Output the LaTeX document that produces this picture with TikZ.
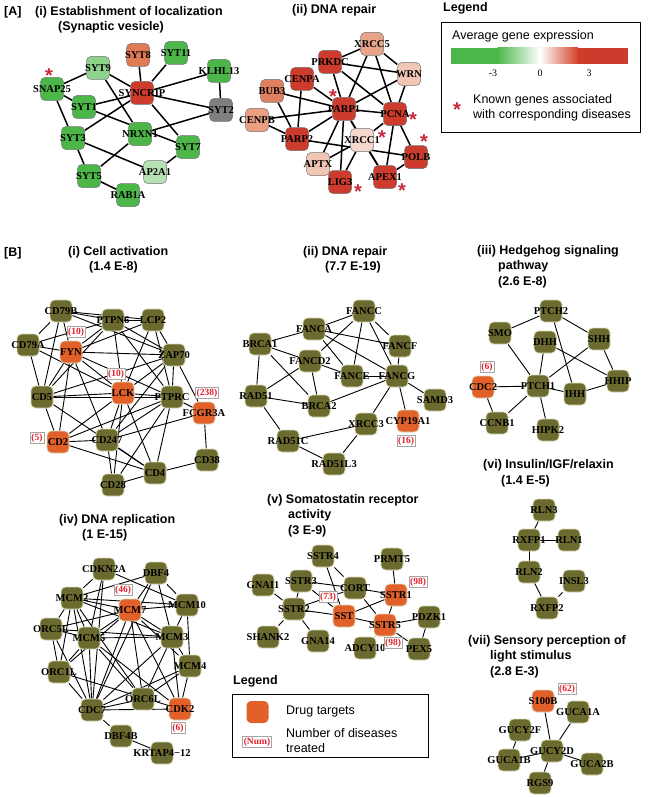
\documentclass[tikz,border=0pt]{standalone}
\usepackage{fontspec}
\setmainfont{Liberation Serif}
\newfontfamily\headfont{Liberation Sans}
\usetikzlibrary{backgrounds}
\definecolor{agreen}{HTML}{4CB748}
\definecolor{alightgreen}{HTML}{8ED28C}
\definecolor{apalegreen}{HTML}{B6E2B4}
\definecolor{agray}{HTML}{7F7F7F}
\definecolor{ared}{HTML}{CC3B2B}
\definecolor{asalmon}{HTML}{E07A55}
\definecolor{asalmonB}{HTML}{E08060}
\definecolor{apink}{HTML}{E8A48A}
\definecolor{apinkB}{HTML}{EA9E82}
\definecolor{apale}{HTML}{F2C6B5}
\definecolor{apaleB}{HTML}{F6D7CB}
\definecolor{geneolive}{HTML}{6B6A2F}
\definecolor{drugorange}{HTML}{E2602A}
\definecolor{rimcolor}{HTML}{DAD9BA}
\definecolor{numred}{HTML}{E0202A}
\definecolor{astred}{HTML}{C8283C}
\newcommand\astmark{\raisebox{-11.6pt}{\smash{*}}}
\tikzset{
  gA/.style={rectangle, rounded corners=4.5pt, minimum size=23pt, inner sep=0pt, draw=black!55, line width=0.5pt},
  gB/.style={rectangle, rounded corners=4.5pt, minimum size=22pt, inner sep=0pt, draw=rimcolor, line width=0.8pt, fill=geneolive},
  gBt/.style={gB, fill=drugorange},
  lbl/.style={font=\bfseries\fontsize{10.5}{11}\selectfont, inner sep=0pt},
  edgeA/.style={line width=1.5pt},
  edgeB/.style={line width=0.9pt},
  num/.style={draw=black!35, fill=white, text=numred, font=\bfseries\fontsize{9.5}{10}\selectfont, inner sep=1.2pt},
  ttl/.style={font=\headfont\bfseries\fontsize{12.5}{15}\selectfont, anchor=west, inner sep=0pt},
  legtxt/.style={font=\headfont\fontsize{12.5}{15}\selectfont, anchor=west, inner sep=0pt},
  ast/.style={text=astred, font=\headfont\bfseries\fontsize{20}{20}\selectfont, inner sep=0pt,
    text height=3.5pt, text depth=3.5pt}
}
\begin{document}
\begin{tikzpicture}[x=1pt,y=-1pt]
\useasboundingbox (0,0) rectangle (650,797);

% ---------- [A] titles
\node[ttl] (tA) at (4,12) {[A]};
\node[ttl] (tA1a) at (35,12) {(i) Establishment of localization};
\node[ttl] (tA1b) at (58,27) {(Synaptic vesicle)};
\node[ttl] (tA2a) at (292,10) {(ii) DNA repair};

% ---------- [A] (i) synaptic vesicle
\node[gA, fill=asalmon, label={[lbl]center:SYT8}] (syt8) at (138,55) {};
\node[gA, fill=agreen, label={[lbl]center:SYT11}] (syt11) at (176,53) {};
\node[gA, fill=alightgreen, label={[lbl]center:SYT9}] (syt9) at (98,68) {};
\node[gA, fill=agreen, label={[lbl]center:KLHL13}] (klhl13) at (219,71) {};
\node[gA, fill=agreen, label={[lbl]center:SNAP25}] (snap25) at (52,89) {};
\node[gA, fill=ared, label={[lbl]center:SYNCRIP}] (syncrip) at (142,93) {};
\node[gA, fill=agray, label={[lbl]center:SYT2}] (syt2) at (221,110) {};
\node[gA, fill=agreen, label={[lbl]center:SYT1}] (syt1) at (84,107) {};
\node[gA, fill=agreen, label={[lbl]center:SYT3}] (syt3) at (73,138) {};
\node[gA, fill=agreen, label={[lbl]center:NRXN1}] (nrxn1) at (140,134) {};
\node[gA, fill=agreen, label={[lbl]center:SYT7}] (syt7) at (188,147) {};
\node[gA, fill=apalegreen, label={[lbl]center:AP2A1}] (ap2a1) at (155,172) {};
\node[gA, fill=agreen, label={[lbl]center:SYT5}] (syt5) at (89,176) {};
\node[gA, fill=agreen, label={[lbl]center:RAB1A}] (rab1a) at (128,195) {};
\node[ast] (astA1) at (49,71) {\astmark};

% ---------- [A] (ii) DNA repair
\node[gA, fill=apink, label={[lbl]center:XRCC5}] (xrcc5) at (372,44) {};
\node[gA, fill=ared, label={[lbl]center:PRKDC}] (prkdc) at (330,62) {};
\node[gA, fill=ared, label={[lbl]center:CENPA}] (cenpa) at (302,79) {};
\node[gA, fill=apale, label={[lbl]center:WRN}] (wrn) at (409,74) {};
\node[gA, fill=asalmonB, label={[lbl]center:BUB3}] (bub3) at (272,91) {};
\node[gA, fill=ared, label={[lbl]center:PARP1}] (parp1) at (344,109) {};
\node[gA, fill=ared, label={[lbl]center:PCNA}] (pcna) at (395,114) {};
\node[gA, fill=apinkB, label={[lbl]center:CENPB}] (cenpb) at (257,120) {};
\node[gA, fill=ared, label={[lbl]center:PARP2}] (parp2) at (297,139) {};
\node[gA, fill=apaleB, label={[lbl]center:XRCC1}] (xrcc1) at (362,140) {};
\node[gA, fill=ared, label={[lbl]center:POLB}] (polb) at (416,157) {};
\node[gA, fill=apale, label={[lbl]center:APTX}] (aptx) at (318,164) {};
\node[gA, fill=ared, label={[lbl]center:LIG3}] (lig3) at (340,182) {};
\node[gA, fill=ared, label={[lbl]center:APEX1}] (apex1) at (385,177) {};
\node[ast] (astA2) at (333,92) {\astmark};
\node[ast] (astA3) at (413,115) {\astmark};
\node[ast] (astA4) at (382,133) {\astmark};
\node[ast] (astA5) at (424,137) {\astmark};
\node[ast] (astA6) at (358,187) {\astmark};
\node[ast] (astA7) at (402,186) {\astmark};

% ---------- [A] legend
\node[ttl] (legA) at (443,8) {Legend};
\draw[line width=1pt] (441,23) rectangle (640,132);
\node[legtxt] (legAexpr) at (452,36) {Average gene expression};
\fill[agreen] (451,48) rectangle (498,64);
\shade[left color=agreen, right color=white] (497.5,48) rectangle (540,64);
\shade[left color=white, right color=ared!90!orange] (540,48) rectangle (578,64);
\fill[ared] (577.5,48) rectangle (628,64);
\node[font=\fontsize{10}{11}\selectfont, inner sep=0pt] (legAm3) at (493,73) {-3};
\node[font=\fontsize{10}{11}\selectfont, inner sep=0pt] (legA0) at (540,73) {0};
\node[font=\fontsize{10}{11}\selectfont, inner sep=0pt] (legAp3) at (589,73) {3};
\node[ast] (legAast) at (457,105) {\astmark};
\node[legtxt] (legAk1) at (473,100) {Known genes associated};
\node[legtxt] (legAk2) at (473,115) {with corresponding diseases};

% ---------- [B] titles
\node[ttl] (tB) at (4,253) {[B]};
\node[ttl] (tB1a) at (68,252) {(i) Cell activation};
\node[ttl] (tB1b) at (89,267) {(1.4 E-8)};
\node[ttl] (tB2a) at (303,252) {(ii) DNA repair};
\node[ttl] (tB2b) at (325,267) {(7.7 E-19)};
\node[ttl] (tB3a) at (477,251) {(iii) Hedgehog signaling};
\node[ttl] (tB3b) at (498,266) {pathway};
\node[ttl] (tB3c) at (498,282) {(2.6 E-8)};
\node[ttl] (tB4a) at (59,520) {(iv) DNA replication};
\node[ttl] (tB4b) at (82,535) {(1 E-15)};
\node[ttl] (tB5a) at (267,500) {(v) Somatostatin receptor};
\node[ttl] (tB5b) at (288,515) {activity};
\node[ttl] (tB5c) at (288,531) {(3 E-9)};
\node[ttl] (tB6a) at (483,465) {(vi) Insulin/IGF/relaxin};
\node[ttl] (tB6b) at (501,481) {(1.4 E-5)};
\node[ttl] (tB7a) at (468,641) {(vii) Sensory perception of};
\node[ttl] (tB7b) at (490,656) {light stimulus};
\node[ttl] (tB7c) at (490,672) {(2.8 E-3)};

% ---------- [B] (i) cell activation
\node[gB, label={[lbl]center:CD79B}] (cd79b) at (61,311) {};
\node[gB, label={[lbl]center:PTPN6}] (ptpn6) at (113,320) {};
\node[gB, label={[lbl]center:LCP2}] (lcp2) at (153,320) {};
\node[gB, label={[lbl]center:CD79A}] (cd79a) at (28,345) {};
\node[gBt, label={[lbl]center:FYN}] (fyn) at (71,352) {};
\node[gB, label={[lbl]center:ZAP70}] (zap70) at (174,355) {};
\node[gB, label={[lbl]center:CD5}] (cd5) at (42,397) {};
\node[gBt, label={[lbl]center:LCK}] (lck) at (123,393) {};
\node[gB, label={[lbl]center:PTPRC}] (ptprc) at (172,397) {};
\node[gBt, label={[lbl]center:FCGR3A}] (fcgr3a) at (204,413) {};
\node[gBt, label={[lbl]center:CD2}] (cd2) at (58,442) {};
\node[gB, label={[lbl]center:CD247}] (cd247) at (107,440) {};
\node[gB, label={[lbl]center:CD38}] (cd38) at (207,460) {};
\node[gB, label={[lbl]center:CD4}] (cd4) at (155,473) {};
\node[gB, label={[lbl]center:CD28}] (cd28) at (113,485) {};
\node[num] (nfyn) at (76,332) {(10)};
\node[num] (nlck) at (116,374) {(10)};
\node[num] (nfcgr) at (207,393) {(238)};
\node[num] (ncd2) at (37,438) {(5)};

% ---------- [B] (ii) DNA repair
\node[gB, label={[lbl]center:FANCC}] (fancc) at (364,311) {};
\node[gB, label={[lbl]center:FANCA}] (fanca) at (314,329) {};
\node[gB, label={[lbl]center:BRCA1}] (brca1) at (260,344) {};
\node[gB, label={[lbl]center:FANCF}] (fancf) at (400,346) {};
\node[gB, label={[lbl]center:FANCD2}] (fancd2) at (310,361) {};
\node[gB, label={[lbl]center:FANCE}] (fance) at (352,376) {};
\node[gB, label={[lbl]center:FANCG}] (fancg) at (397,376) {};
\node[gB, label={[lbl]center:RAD51}] (rad51) at (256,396) {};
\node[gB, label={[lbl]center:BRCA2}] (brca2) at (319,406) {};
\node[gB, label={[lbl]center:SAMD3}] (samd3) at (435,400) {};
\node[gBt, label={[lbl]center:CYP19A1}] (cyp19a1) at (408,421) {};
\node[gB, label={[lbl]center:XRCC3}] (xrcc3) at (366,424) {};
\node[gB, label={[lbl]center:RAD51C}] (rad51c) at (288,441) {};
\node[gB, label={[lbl]center:RAD51L3}] (rad51l3) at (334,464) {};
\node[num] (ncyp) at (406,441) {(16)};

% ---------- [B] (iii) hedgehog
\node[gB, label={[lbl]center:PTCH2}] (ptch2) at (551,311) {};
\node[gB, label={[lbl]center:SMO}] (smo) at (500,333) {};
\node[gB, label={[lbl]center:DHH}] (dhh) at (545,342) {};
\node[gB, label={[lbl]center:SHH}] (shh) at (599,339) {};
\node[gB, label={[lbl]center:HHIP}] (hhip) at (618,381) {};
\node[gBt, label={[lbl]center:CDC2}] (cdc2) at (483,387) {};
\node[gB, label={[lbl]center:PTCH1}] (ptch1) at (538,386) {};
\node[gB, label={[lbl]center:IHH}] (ihh) at (575,394) {};
\node[gB, label={[lbl]center:CCNB1}] (ccnb1) at (497,423) {};
\node[gB, label={[lbl]center:HIPK2}] (hipk2) at (548,430) {};
\node[num] (ncdc2) at (487,367) {(6)};

% ---------- [B] (iv) DNA replication
\node[gB, label={[lbl]center:CDKN2A}] (cdkn2a) at (104,569) {};
\node[gB, label={[lbl]center:DBF4}] (dbf4) at (156,573) {};
\node[gB, label={[lbl]center:MCM2}] (mcm2) at (72,598) {};
\node[gBt, label={[lbl]center:MCM7}] (mcm7) at (130,610) {};
\node[gB, label={[lbl]center:MCM10}] (mcm10) at (187,605) {};
\node[gB, label={[lbl]center:ORC5L}] (orc5l) at (51,629) {};
\node[gB, label={[lbl]center:MCM5}] (mcm5) at (89,638) {};
\node[gB, label={[lbl]center:MCM3}] (mcm3) at (172,637) {};
\node[gB, label={[lbl]center:ORC1L}] (orc1l) at (59,672) {};
\node[gB, label={[lbl]center:MCM4}] (mcm4) at (190,666) {};
\node[gB, label={[lbl]center:ORC6L}] (orc6l) at (143,699) {};
\node[gBt, label={[lbl]center:CDK2}] (cdk2) at (180,709) {};
\node[gB, label={[lbl]center:CDC7}] (cdc7) at (92,710) {};
\node[gB, label={[lbl]center:DBF4B}] (dbf4b) at (121,736) {};
\node[gB, label={[lbl]center:KRTAP4\textminus12}] (krtap) at (162,753) {};
\node[num] (nmcm7) at (123,590) {(46)};
\node[num] (ncdk2) at (178,728) {(6)};

% ---------- [B] (v) somatostatin
\node[gB, label={[lbl]center:SSTR4}] (sstr4) at (323,556) {};
\node[gB, label={[lbl]center:PRMT5}] (prmt5) at (392,559) {};
\node[gB, label={[lbl]center:GNAI1}] (gnai1) at (263,585) {};
\node[gB, label={[lbl]center:SSTR3}] (sstr3) at (301,581) {};
\node[gB, label={[lbl]center:CORT}] (cort) at (355,588) {};
\node[gBt, label={[lbl]center:SSTR1}] (sstr1) at (396,595) {};
\node[gB, label={[lbl]center:SSTR2}] (sstr2) at (294,609) {};
\node[gBt, label={[lbl]center:SST}] (sst) at (344,616) {};
\node[gBt, label={[lbl]center:SSTR5}] (sstr5) at (385,625) {};
\node[gB, label={[lbl]center:PDZK1}] (pdzk1) at (429,617) {};
\node[gB, label={[lbl]center:SHANK2}] (shank2) at (268,637) {};
\node[gB, label={[lbl]center:GNA14}] (gna14) at (318,641) {};
\node[gB, label={[lbl]center:ADCY10}] (adcy10) at (365,648) {};
\node[gB, label={[lbl]center:PEX5}] (pex5) at (419,649) {};
\node[num] (nsstr1) at (418,582) {(98)};
\node[num] (nsst) at (328,597) {(73)};
\node[num] (nsstr5) at (393,643) {(98)};

% ---------- [B] (vi) insulin/IGF/relaxin
\node[gB, label={[lbl]center:RLN3}] (rln3) at (544,510) {};
\node[gB, label={[lbl]center:RXFP1}] (rxfp1) at (529,540) {};
\node[gB, label={[lbl]center:RLN1}] (rln1) at (569,540) {};
\node[gB, label={[lbl]center:RLN2}] (rln2) at (529,572) {};
\node[gB, label={[lbl]center:INSL3}] (insl3) at (574,581) {};
\node[gB, label={[lbl]center:RXFP2}] (rxfp2) at (547,608) {};

% ---------- [B] (vii) light stimulus
\node[gBt, label={[lbl]center:S100B}] (s100b) at (543,701) {};
\node[gB, label={[lbl]center:GUCA1A}] (guca1a) at (578,712) {};
\node[gB, label={[lbl]center:GUCY2F}] (gucy2f) at (520,730) {};
\node[gB, label={[lbl]center:GUCY2D}] (gucy2d) at (552,751) {};
\node[gB, label={[lbl]center:GUCA1B}] (guca1b) at (509,760) {};
\node[gB, label={[lbl]center:GUCA2B}] (guca2b) at (592,764) {};
\node[gB, label={[lbl]center:RGS9}] (rgs9) at (540,783) {};
\node[num] (ns100b) at (567,689) {(62)};

% ---------- [B] legend
\node[ttl] (legB) at (233,681) {Legend};
\draw[line width=1pt] (232,694) rectangle (428,757);
\node[gBt, draw=none] (legBdrug) at (257.5,712) {};
\node[legtxt] (legBt1) at (286,711) {Drug targets};
\node[num] (legBnum) at (257,742) {(Num)};
\node[legtxt] (legBt2) at (286,733) {Number of diseases};
\node[legtxt] (legBt3) at (286,748) {treated};

% ---------- connectors
\begin{scope}[on background layer]
\foreach \a/\b in {syt8/syncrip, syt11/syncrip, syt9/snap25, syt9/syncrip, syt9/nrxn1,
  klhl13/syncrip, klhl13/syt2, snap25/syt1, snap25/syt3, syt1/syncrip, syt1/syt7,
  syncrip/syt3, syncrip/syt7, syncrip/syt2, syt2/nrxn1, syt3/ap2a1, syt3/syt5,
  nrxn1/syt5, ap2a1/syt7, syt5/rab1a}
  \draw[edgeA] (\a) -- (\b);
\foreach \a/\b in {xrcc5/prkdc, xrcc5/wrn, xrcc5/parp1, xrcc5/pcna, prkdc/wrn, prkdc/parp1,
  prkdc/pcna, cenpa/parp1, cenpa/parp2, bub3/parp1, bub3/parp2, wrn/parp1, wrn/pcna,
  cenpb/parp1, cenpb/parp2, parp1/pcna, parp1/parp2, parp1/xrcc1, parp1/aptx, parp1/lig3,
  parp1/apex1, parp2/polb, pcna/xrcc1, pcna/polb, pcna/apex1, xrcc1/aptx, xrcc1/lig3,
  xrcc1/apex1, apex1/polb}
  \draw[edgeA] (\a) -- (\b);
\foreach \a/\b in {cd79b/ptpn6, cd79b/lcp2, cd79b/cd79a, cd79b/fyn, cd79b/cd5, cd79b/zap70,
  ptpn6/lcp2, ptpn6/fyn, ptpn6/zap70, ptpn6/lck, ptpn6/ptprc, ptpn6/cd5, lcp2/zap70,
  lcp2/fyn, lcp2/ptprc, lcp2/lck, cd79a/fyn, cd79a/cd5, cd79a/lck, cd79a/ptpn6,
  fyn/zap70, fyn/lck, fyn/cd5, fyn/cd2, fyn/cd247, fyn/ptprc, zap70/lck, zap70/ptprc,
  zap70/cd5, zap70/cd247, zap70/fcgr3a, cd5/lck, cd5/ptprc, cd5/cd2, cd5/cd4, lck/ptprc,
  lck/cd2, lck/cd247, lck/cd4, lck/cd28, ptprc/fcgr3a, ptprc/cd2, ptprc/cd247, ptprc/cd4,
  ptprc/cd28, fcgr3a/cd38, fcgr3a/cd247, cd2/cd247, cd2/cd4, cd247/cd4, cd247/cd28,
  cd4/cd38, cd4/cd28}
  \draw[edgeB] (\a) -- (\b);
\foreach \a/\b in {fancc/fanca, fancc/fancd2, fancc/fance, fancc/fancf, fancc/fancg,
  fanca/brca1, fanca/fancf, fanca/fance, fanca/fancg, brca1/fancd2, brca1/rad51,
  brca1/brca2, fancd2/fance, fancd2/rad51, fancd2/brca2, fance/fancg, fancf/fancg,
  fancg/brca2, fancg/samd3, fancg/cyp19a1, fancg/xrcc3, rad51/brca2, rad51/rad51c,
  rad51c/xrcc3, rad51c/rad51l3, xrcc3/rad51l3}
  \draw[edgeB] (\a) -- (\b);
\foreach \a/\b in {ptch2/smo, ptch2/shh, ptch2/ihh, smo/ptch1, dhh/ptch1, dhh/hhip,
  shh/ptch1, shh/hhip, cdc2/ptch1, cdc2/ccnb1, ptch1/ihh, ihh/hhip, ptch1/ccnb1,
  ptch1/hipk2}
  \draw[edgeB] (\a) -- (\b);
\foreach \a/\b in {cdkn2a/mcm2, cdkn2a/mcm10, cdkn2a/mcm5, cdkn2a/cdc7, dbf4/mcm2,
  dbf4/mcm7, dbf4/mcm3, dbf4/mcm10, dbf4/cdc7, mcm2/mcm7, mcm2/mcm10, mcm2/mcm5,
  mcm2/mcm3, mcm2/orc5l, mcm2/orc1l, mcm2/cdc7, mcm2/orc6l, mcm7/mcm10, mcm7/mcm5,
  mcm7/mcm3, mcm7/mcm4, mcm7/orc5l, mcm7/cdc7, mcm7/orc6l, mcm7/cdk2, mcm7/orc1l,
  mcm10/mcm3, mcm10/mcm4, orc5l/mcm5, orc5l/orc1l, orc5l/cdc7, orc5l/mcm3, mcm5/mcm3,
  mcm5/orc1l, mcm5/cdc7, mcm5/orc6l, mcm5/cdk2, mcm3/mcm4, mcm3/cdc7, mcm3/orc6l,
  mcm3/cdk2, orc1l/cdc7, orc1l/cdk2, mcm4/cdk2, mcm4/orc6l, mcm4/cdc7, orc6l/cdc7,
  cdc7/cdk2, cdc7/dbf4b, dbf4b/krtap}
  \draw[edgeB] (\a) -- (\b);
\foreach \a/\b in {sstr4/cort, sstr4/sst, gnai1/sstr2, sstr3/cort, sstr3/sst,
  sstr3/sstr2, cort/sstr1, cort/sstr2, cort/sstr5, sstr2/sst, sstr2/shank2,
  sstr2/gna14, sst/sstr1, sst/sstr5, sstr1/prmt5, sstr1/sstr5, sstr5/pdzk1,
  sstr5/adcy10, sstr5/pex5, pdzk1/pex5}
  \draw[edgeB] (\a) -- (\b);
\foreach \a/\b in {rln3/rxfp1, rxfp1/rln1, rxfp1/rln2, rln2/rxfp2, insl3/rxfp2,
  s100b/gucy2d, guca1a/gucy2d, gucy2f/guca1b, guca1b/gucy2d, gucy2d/guca2b, gucy2d/rgs9}
  \draw[edgeB] (\a) -- (\b);
\end{scope}
\end{tikzpicture}
\end{document}
